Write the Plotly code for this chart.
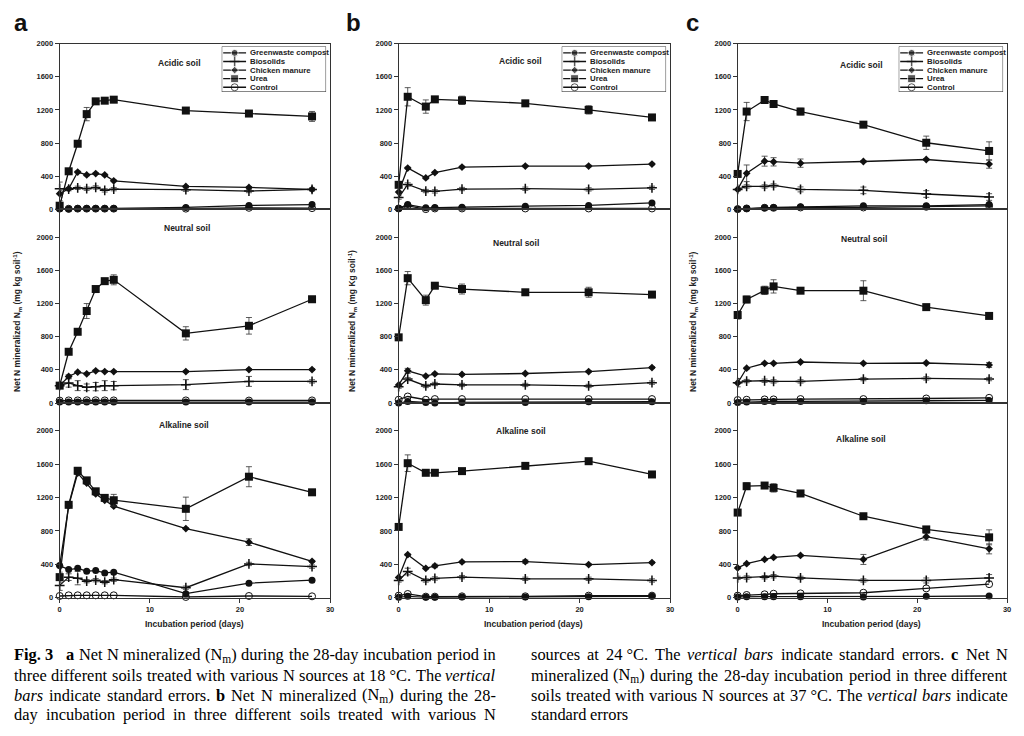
import re
import plotly.graph_objects as go

W, H = 1024, 736

# ---------------- data ----------------
days_a = [0, 1, 2, 3, 4, 5, 6, 14, 21, 28]
days_bc = [0, 1, 3, 4, 7, 14, 21, 28]

sources = ["Greenwaste compost", "Biosolids", "Chicken manure", "Urea", "Control"]
soils = ["Acidic soil", "Neutral soil", "Alkaline soil"]
panel_letters = ["a", "b", "c"]
y_ticks = [0, 400, 800, 1200, 1600, 2000]
x_ticks = [0, 10, 20, 30]

# a : 18 °C
a_acid_green = [12, 4, 12, 12, 12, 12, 12, 24, 48, 59]
a_acid_bio = [250, 245, 261, 250, 265, 230, 245, 238, 222, 242]
a_acid_chick = [190, 250, 451, 416, 432, 416, 345, 277, 265, 242]
a_acid_urea = [45, 460, 792, 1149, 1303, 1311, 1323, 1192, 1156, 1121]
a_acid_ctrl = [10, 8, 10, 10, 10, 10, 10, 10, 20, 16]
a_acid_urea_err = [60, 20, 20, 80, 20, 20, 20, 20, 20, 60]
a_acid_bio_err = [80, 20, 20, 20, 20, 20, 20, 20, 20, 20]
a_acid_chick_err = [40, 10, 10, 10, 10, 10, 10, 10, 10, 10]

a_neut_green = [12, 12, 12, 12, 12, 12, 12, 12, 12, 12]
a_neut_bio = [210, 242, 210, 190, 198, 210, 210, 222, 261, 261]
a_neut_chick = [210, 321, 372, 352, 388, 380, 380, 380, 404, 404]
a_neut_urea = [210, 618, 859, 1109, 1374, 1469, 1485, 840, 931, 1251]
a_neut_ctrl = [30, 32, 32, 34, 34, 32, 32, 32, 30, 32]
a_neut_urea_err = [20, 20, 20, 90, 20, 20, 60, 80, 100, 20]
a_neut_bio_err = [20, 50, 60, 40, 50, 60, 50, 60, 60, 20]
a_neut_chick_err = [10, 20, 10, 10, 10, 10, 10, 10, 10, 10]

a_alk_green = [384, 337, 352, 317, 325, 297, 305, 48, 174, 210]
a_alk_bio = [147, 246, 234, 198, 210, 186, 215, 119, 404, 372]
a_alk_chick = [380, 1100, 1493, 1374, 1244, 1168, 1097, 828, 665, 436]
a_alk_urea = [246, 1113, 1521, 1406, 1275, 1196, 1168, 1065, 1450, 1263]
a_alk_ctrl = [20, 28, 28, 28, 28, 28, 28, 8, 20, 16]
a_alk_urea_err = [60, 20, 40, 20, 20, 20, 70, 140, 120, 20]
a_alk_bio_err = [60, 40, 80, 20, 20, 20, 20, 20, 20, 20]
a_alk_chick_err = [10, 10, 10, 10, 10, 10, 10, 10, 40, 10]

# b : 24 °C
b_acid_green = [12, 59, 20, 24, 28, 40, 48, 79]
b_acid_bio = [143, 301, 222, 218, 246, 250, 242, 261]
b_acid_chick = [210, 499, 380, 444, 511, 523, 523, 547]
b_acid_urea = [297, 1358, 1240, 1327, 1315, 1279, 1200, 1109]
b_acid_ctrl = [12, 44, 4, 12, 12, 12, 12, 12]
b_acid_urea_err = [20, 110, 80, 20, 50, 20, 50, 20]
b_acid_bio_err = [20, 20, 20, 20, 20, 20, 20, 20]
b_acid_chick_err = [10, 10, 10, 10, 10, 10, 10, 10]

b_neut_green = [0, 20, 8, 0, 8, 8, 16, 16]
b_neut_bio = [198, 289, 206, 230, 218, 218, 206, 246]
b_neut_chick = [218, 388, 325, 352, 345, 356, 380, 428]
b_neut_urea = [792, 1505, 1240, 1414, 1374, 1335, 1335, 1307]
b_neut_ctrl = [40, 79, 40, 48, 48, 48, 48, 48]
b_neut_urea_err = [20, 80, 60, 20, 60, 20, 60, 20]
b_neut_bio_err = [20, 20, 20, 20, 20, 20, 20, 20]
b_neut_chick_err = [10, 30, 10, 10, 10, 10, 10, 10]

b_alk_green = [4, 16, 4, 4, 8, 8, 12, 16]
b_alk_bio = [206, 313, 206, 230, 246, 226, 226, 206]
b_alk_chick = [242, 515, 352, 380, 428, 432, 396, 420]
b_alk_urea = [848, 1612, 1497, 1497, 1517, 1580, 1636, 1477]
b_alk_ctrl = [24, 44, 12, 12, 16, 16, 24, 24]
b_alk_urea_err = [20, 100, 30, 20, 30, 20, 30, 20]
b_alk_bio_err = [20, 40, 20, 20, 20, 20, 20, 20]
b_alk_chick_err = [10, 10, 10, 20, 10, 20, 10, 10]

# c : 37 °C
c_acid_green = [4, 12, 20, 24, 32, 44, 44, 59]
c_acid_bio = [242, 277, 277, 289, 242, 230, 186, 150]
c_acid_chick = [242, 436, 582, 574, 558, 578, 602, 547]
c_acid_urea = [428, 1180, 1319, 1271, 1180, 1022, 804, 705]
c_acid_ctrl = [4, 12, 20, 20, 24, 24, 32, 44]
c_acid_urea_err = [20, 110, 30, 20, 40, 20, 80, 110]
c_acid_bio_err = [20, 20, 20, 20, 30, 40, 40, 40]
c_acid_chick_err = [10, 100, 60, 50, 50, 10, 10, 50]

c_neut_green = [8, 12, 20, 20, 20, 20, 28, 32]
c_neut_bio = [246, 265, 269, 261, 261, 289, 297, 289]
c_neut_chick = [242, 420, 479, 479, 495, 479, 483, 459]
c_neut_urea = [1061, 1248, 1358, 1406, 1354, 1354, 1156, 1050]
c_neut_ctrl = [36, 40, 44, 44, 48, 48, 55, 63]
c_neut_urea_err = [50, 40, 50, 80, 20, 120, 20, 20]
c_neut_bio_err = [50, 20, 20, 20, 20, 20, 20, 20]
c_neut_chick_err = [10, 10, 10, 10, 10, 10, 10, 30]

c_alk_green = [8, 12, 12, 12, 12, 8, 16, 20]
c_alk_bio = [237, 241, 245, 257, 237, 206, 206, 237]
c_alk_chick = [356, 407, 458, 482, 506, 458, 731, 585]
c_alk_urea = [1020, 1336, 1344, 1316, 1249, 976, 818, 723]
c_alk_ctrl = [24, 32, 40, 47, 51, 59, 111, 162]
c_alk_urea_err = [20, 40, 20, 50, 20, 20, 20, 90]
c_alk_bio_err = [20, 20, 20, 20, 20, 20, 30, 40]
c_alk_chick_err = [10, 10, 10, 10, 10, 60, 40, 60]

caption_left = [
    "<b>Fig.\u00a03</b>\u00a0\u00a0 <b>a</b> Net N mineralized (N<sub>m</sub>) during the 28-day incubation period in",
    "three different soils treated with various N sources at 18\u00a0°C. The <i>vertical</i>",
    "<i>bars</i> indicate standard errors. <b>b</b> Net N mineralized (N<sub>m</sub>) during the 28-",
    "day incubation period in three different soils treated with various N",
]
caption_right = [
    "sources at 24\u00a0°C. The <i>vertical</i> <i>bars</i> indicate standard errors. <b>c</b> Net N",
    "mineralized (N<sub>m</sub>) during the 28-day incubation period in three different",
    "soils treated with various N sources at 37\u00a0°C. The <i>vertical</i> <i>bars</i> indicate",
    "standard errors",
]
y_titles = [
    "Net N mineralized N<sub>m</sub> (mg kg soil<sup>-1</sup>)",
    "Net N mineralized N<sub>m</sub> (mg Kg soil<sup>-1</sup>)",
    "Net N mineralized N<sub>m</sub> (mg kg soil<sup>-1</sup>)",
]
x_title = "Incubation period (days)"

# -------- assemble panels (column, row) --------
panels = {
    (0, 0): (days_a, [a_acid_green, a_acid_bio, a_acid_chick, a_acid_urea, a_acid_ctrl],
             {"Urea": a_acid_urea_err, "Biosolids": a_acid_bio_err, "Chicken manure": a_acid_chick_err}),
    (0, 1): (days_a, [a_neut_green, a_neut_bio, a_neut_chick, a_neut_urea, a_neut_ctrl],
             {"Urea": a_neut_urea_err, "Biosolids": a_neut_bio_err, "Chicken manure": a_neut_chick_err}),
    (0, 2): (days_a, [a_alk_green, a_alk_bio, a_alk_chick, a_alk_urea, a_alk_ctrl],
             {"Urea": a_alk_urea_err, "Biosolids": a_alk_bio_err, "Chicken manure": a_alk_chick_err}),
    (1, 0): (days_bc, [b_acid_green, b_acid_bio, b_acid_chick, b_acid_urea, b_acid_ctrl],
             {"Urea": b_acid_urea_err, "Biosolids": b_acid_bio_err, "Chicken manure": b_acid_chick_err}),
    (1, 1): (days_bc, [b_neut_green, b_neut_bio, b_neut_chick, b_neut_urea, b_neut_ctrl],
             {"Urea": b_neut_urea_err, "Biosolids": b_neut_bio_err, "Chicken manure": b_neut_chick_err}),
    (1, 2): (days_bc, [b_alk_green, b_alk_bio, b_alk_chick, b_alk_urea, b_alk_ctrl],
             {"Urea": b_alk_urea_err, "Biosolids": b_alk_bio_err, "Chicken manure": b_alk_chick_err}),
    (2, 0): (days_bc, [c_acid_green, c_acid_bio, c_acid_chick, c_acid_urea, c_acid_ctrl],
             {"Urea": c_acid_urea_err, "Biosolids": c_acid_bio_err, "Chicken manure": c_acid_chick_err}),
    (2, 1): (days_bc, [c_neut_green, c_neut_bio, c_neut_chick, c_neut_urea, c_neut_ctrl],
             {"Urea": c_neut_urea_err, "Biosolids": c_neut_bio_err, "Chicken manure": c_neut_chick_err}),
    (2, 2): (days_bc, [c_alk_green, c_alk_bio, c_alk_chick, c_alk_urea, c_alk_ctrl],
             {"Urea": c_alk_urea_err, "Biosolids": c_alk_bio_err, "Chicken manure": c_alk_chick_err}),
}

# ---------------- styles / layout geometry (pixels) ----------------
INK = "#111111"
FONT = "Liberation Sans, Arial, sans-serif"
SERIF = "Liberation Serif, Times New Roman, serif"
marker_styles = {
    "Greenwaste compost": dict(symbol="circle", size=7, color=INK),
    "Biosolids": dict(symbol="cross-thin", size=7, color=INK, line=dict(width=1.5, color=INK)),
    "Chicken manure": dict(symbol="diamond", size=6, color=INK),
    "Urea": dict(symbol="square", size=8, color=INK),
    "Control": dict(symbol="circle-open", size=7, color=INK, line=dict(width=1, color=INK)),
}
col_px = [(58, 330), (399, 672), (740, 1011)]
row_px = [(40, 208), (208, 404), (404, 601)]
row_ymax = [2000, 2333, 2333]
sub_pos = {
    (0, 0): (179, 60), (0, 1): (186, 227), (0, 2): (183, 426),
    (1, 0): (522, 58), (1, 1): (517, 242), (1, 2): (522, 432),
    (2, 0): (865, 62), (2, 1): (867, 238), (2, 2): (864, 440),
}
letter_px = [(19, 19), (354, 19), (695, 19)]
ytitle_px = [(15, 321), (352, 321), (695, 321)]
xtitle_px = [(194, 628), (535, 628), (875, 628)]
cap_size = 16.4
cap_line_y = [659, 679.5, 700, 719.5]
cap_cols = [(12, 497), (532, 1012)]

# Times-compatible advance widths (per 1000 em) used to justify the caption
TIMES_W = {" ": 250, "\u00a0": 250, ".": 250, ",": 250, "-": 333, "(": 333, ")": 333,
           "°": 400, "C": 667, "F": 556, "N": 722, "T": 611,
           "a": 444, "b": 500, "c": 444, "d": 500, "e": 444, "f": 333, "g": 500, "h": 500,
           "i": 278, "j": 278, "k": 500, "l": 278, "m": 778, "n": 500, "o": 500, "p": 500,
           "q": 500, "r": 333, "s": 389, "t": 278, "u": 500, "v": 500, "w": 722, "x": 500,
           "y": 500, "z": 444}
TIMES_I = {"v": 444, "e": 444, "r": 389, "t": 278, "i": 278, "c": 444, "a": 500,
           "l": 278, "b": 500, "s": 389}
TIMES_B = {"F": 611, "i": 278, "g": 500, ".": 250, "3": 500, "a": 500, "b": 556, "c": 444}


def word_width(word, size):
    w, scale, table = 0.0, 1.0, TIMES_W
    for tok in re.split(r"(<[^>]+>)", word):
        if tok.startswith("<"):
            if tok == "<sub>":
                scale = 0.7
            elif tok == "</sub>":
                scale = 1.0
            elif tok == "<i>":
                table = TIMES_I
            elif tok == "<b>":
                table = TIMES_B
            elif tok in ("</i>", "</b>"):
                table = TIMES_W
            continue
        for ch in tok:
            w += table.get(ch, TIMES_W.get(ch, 500)) * scale
    return w / 1000.0 * size


def px(x):
    return x / W


def py(y):
    return 1 - y / H


fig = go.Figure()
layout = dict(
    width=W, height=H, margin=dict(l=0, r=0, t=0, b=0),
    paper_bgcolor="white", plot_bgcolor="white", showlegend=False,
    font=dict(family=FONT, color=INK),
)
annotations = []
shapes = []


def add_text(text, x, y, size, family=FONT, color="#222", xanchor="center", angle=0, xref="paper", yref="paper"):
    annotations.append(dict(
        text=text, x=x, y=y, xref=xref, yref=yref, xanchor=xanchor, yanchor="middle",
        showarrow=False, textangle=angle, borderpad=0, borderwidth=0, align="left",
        font=dict(size=size, family=family, color=color),
    ))


for (col, row), (days, series, errs) in panels.items():
    k = col * 3 + row + 1
    xr = "x" if k == 1 else f"x{k}"
    yr = "y" if k == 1 else f"y{k}"
    xn = "xaxis" if k == 1 else f"xaxis{k}"
    yn = "yaxis" if k == 1 else f"yaxis{k}"
    x0, x1 = col_px[col]
    t, b = row_px[row]
    layout[xn] = dict(
        domain=[px(x0), px(x1)], range=[0, 30], anchor=yr,
        showline=True, mirror=True, linecolor="#333", linewidth=1,
        showgrid=False, zeroline=False, tickvals=x_ticks,
        ticks="outside" if row == 2 else "", ticklen=4, tickcolor="#333",
        showticklabels=(row == 2),
        tickfont=dict(size=7.5, family=FONT, color="#222", weight="bold"),
    )
    layout[yn] = dict(
        domain=[py(b), py(t)], range=[0, row_ymax[row]], anchor=xr,
        showline=True, mirror=True, linecolor="#333", linewidth=1,
        showgrid=False, zeroline=False, tickvals=y_ticks,
        ticks="outside", ticklen=4, tickcolor="#333",
        tickfont=dict(size=7.5, family=FONT, color="#222", weight="bold"),
    )
    for name, vals in zip(sources, series):
        tr = dict(
            x=days, y=vals, mode="lines+markers", name=name,
            line=dict(color=INK, width=1.3), marker=marker_styles[name],
            xaxis=xr, yaxis=yr, cliponaxis=False,
        )
        if name in errs:
            tr["error_y"] = dict(type="data", array=errs[name], visible=True,
                                 thickness=0.8, width=3, color="#333")
        fig.add_trace(go.Scatter(**tr))
    sx, sy = sub_pos[(col, row)]
    add_text(f"<b>{soils[row]}</b>", px(sx), py(sy), 8.5)

# custom compact legends (one per column, inside the top panel)
for col in range(3):
    k = 10 + col
    R = col_px[col][1]
    bx0, bx1, by0, by1 = R - 109, R - 4, 43, 89
    layout[f"xaxis{k}"] = dict(domain=[px(bx0), px(bx1)], range=[0, bx1 - bx0],
                               visible=False, anchor=f"y{k}", fixedrange=True)
    layout[f"yaxis{k}"] = dict(domain=[py(by1), py(by0)], range=[by1 - by0, 0],
                               visible=False, anchor=f"x{k}", fixedrange=True)
    shapes.append(dict(type="rect", xref=f"x{k}", yref=f"y{k}", x0=0, x1=bx1 - bx0,
                       y0=0, y1=by1 - by0, line=dict(color="#333", width=1)))
    for i, name in enumerate(sources):
        yy = 6.5 + i * 8.7
        ms = dict(marker_styles[name])
        ms["size"] = [0, ms["size"], 0]
        fig.add_trace(go.Scatter(
            x=[1.5, 13, 24.5], y=[yy, yy, yy], mode="lines+markers",
            line=dict(color=INK, width=1.3), marker=ms, xaxis=f"x{k}", yaxis=f"y{k}",
            hoverinfo="skip", cliponaxis=False,
        ))
        add_text(f"<b>{name}</b>", 28, yy, 7.8, xanchor="left", xref=f"x{k}", yref=f"y{k}")

for col in range(3):
    lx, ly = letter_px[col]
    add_text(f"<b>{panel_letters[col]}</b>", px(lx), py(ly), 24, color="#111")
    tx, ty = ytitle_px[col]
    add_text(f"<b>{y_titles[col]}</b>", px(tx), py(ty), 8.5, angle=-90)
    xx, xy = xtitle_px[col]
    add_text(f"<b>{x_title}</b>", px(xx), py(xy), 8.5)

# justified two-column caption, placed word by word
for (left, right), lines in zip(cap_cols, [caption_left, caption_right]):
    for i, line in enumerate(lines):
        words = line.split(" ")
        widths = [word_width(w, cap_size) for w in words]
        last_para_line = (lines is caption_right and i == len(lines) - 1)
        if last_para_line or len(words) == 1:
            gap = word_width(" ", cap_size)
        else:
            gap = (right - left - sum(widths)) / (len(words) - 1)
        xpos = left
        for j, (wd, ww) in enumerate(zip(words, widths)):
            if j == len(words) - 1 and not last_para_line and len(words) > 1:
                add_text(wd, px(right), py(cap_line_y[i]), cap_size, family=SERIF,
                         color="#000", xanchor="right")
            else:
                add_text(wd, px(xpos), py(cap_line_y[i]), cap_size, family=SERIF,
                         color="#000", xanchor="left")
            xpos += ww + gap

layout["annotations"] = annotations
layout["shapes"] = shapes
fig.update_layout(**layout)
fig.write_html("out.html", config={"displayModeBar": False},
               post_script="document.body.style.margin='0px';")
